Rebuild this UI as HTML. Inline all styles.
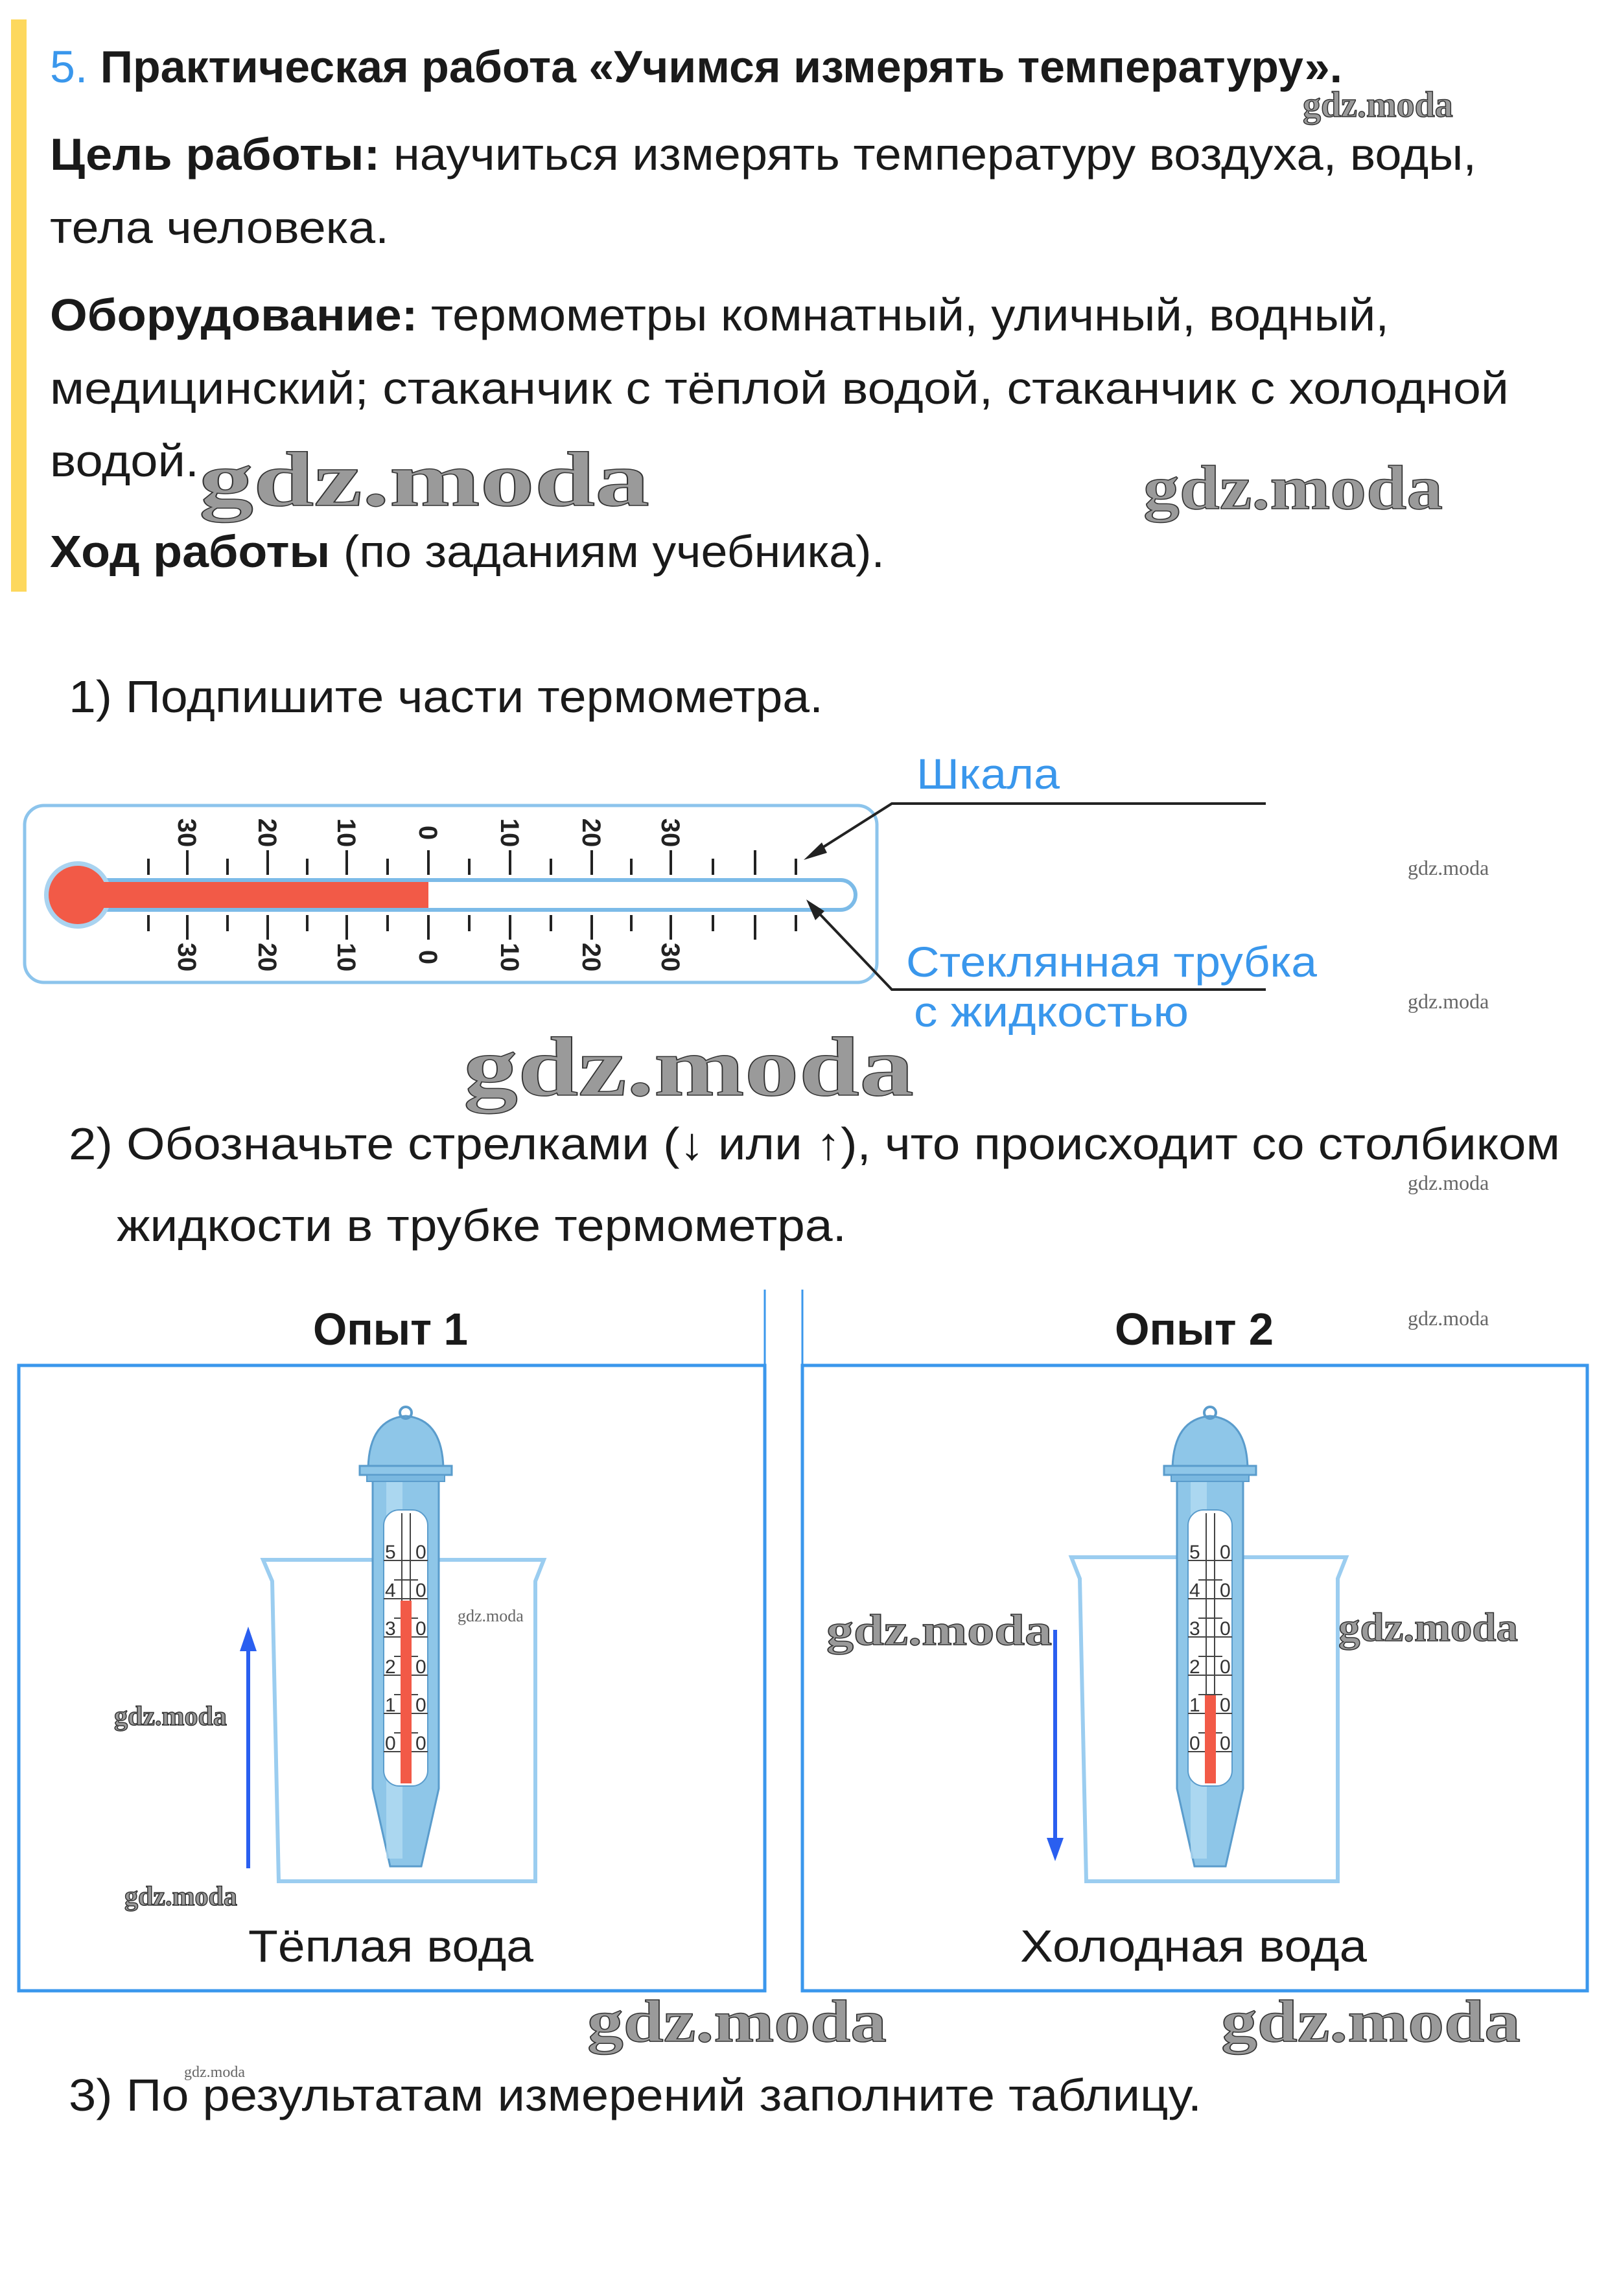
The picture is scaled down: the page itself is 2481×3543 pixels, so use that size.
<!DOCTYPE html>
<html><head><meta charset="utf-8"><style>
html,body{margin:0;padding:0;background:#fff;}
svg{display:block;}
text{font-family:"Liberation Sans",sans-serif;}
.t{font-size:70px;fill:#1a1a1a;}
.b{font-weight:bold;}
.bl{fill:#3a97ec;font-size:66px;}
.wm{font-family:"Liberation Serif",serif;font-weight:bold;fill:#9a9a9a;stroke:#333;stroke-width:1.5px;}
.wms{font-family:"Liberation Serif",serif;fill:#666;}
.sc{font-size:40px;font-weight:bold;fill:#222;}
.dg{font-size:30px;fill:#333;}
</style></head><body>
<svg width="2481" height="3543" viewBox="0 0 2481 3543" xmlns="http://www.w3.org/2000/svg">
<rect x="17" y="30" width="24" height="883" fill="#fdd85d"/>
<text class="t b" x="77" y="127" textLength="1994" lengthAdjust="spacingAndGlyphs"><tspan fill="#3a97ec" font-weight="normal">5.</tspan> Практическая работа «Учимся измерять температуру».</text>
<text class="t" x="77" y="262" textLength="2201" lengthAdjust="spacingAndGlyphs"><tspan class="b">Цель работы:</tspan> научиться измерять температуру воздуха, воды,</text>
<text class="t" x="77" y="375" textLength="523" lengthAdjust="spacingAndGlyphs">тела человека.</text>
<text class="t" x="77" y="510" textLength="2066" lengthAdjust="spacingAndGlyphs"><tspan class="b">Оборудование:</tspan> термометры комнатный, уличный, водный,</text>
<text class="t" x="77" y="623" textLength="2251" lengthAdjust="spacingAndGlyphs">медицинский; стаканчик с тёплой водой, стаканчик с холодной</text>
<text class="t" x="77" y="735" textLength="230" lengthAdjust="spacingAndGlyphs">водой.</text>
<text class="t" x="77" y="875" textLength="1288" lengthAdjust="spacingAndGlyphs"><tspan class="b">Ход работы</tspan> (по заданиям учебника).</text>

<text class="wm" x="2010" y="180" font-size="56">gdz.moda</text>
<text class="wm" x="307" y="780" font-size="120" textLength="695" lengthAdjust="spacingAndGlyphs">gdz.moda</text>
<text class="wm" x="1764" y="785" font-size="96" textLength="462" lengthAdjust="spacingAndGlyphs">gdz.moda</text>

<text class="t" x="106" y="1099" textLength="1164" lengthAdjust="spacingAndGlyphs">1) Подпишите части термометра.</text>

<rect x="38" y="1243" width="1315" height="273" rx="30" fill="none" stroke="#8cc4ec" stroke-width="5"/>
<rect x="120" y="1358" width="1200" height="46" rx="23" fill="#fff" stroke="#7cbbe8" stroke-width="6"/>
<circle cx="120" cy="1381" r="52" fill="#a9d3f0"/>
<circle cx="120" cy="1381" r="45" fill="#f25a47"/>
<rect x="120" y="1361" width="541" height="40" fill="#f25a47"/>
<g stroke="#222" stroke-width="4">
<line x1="229" y1="1325" x2="229" y2="1350"/><line x1="229" y1="1412" x2="229" y2="1437"/>
<line x1="289" y1="1312" x2="289" y2="1350"/><line x1="289" y1="1412" x2="289" y2="1450"/>
<line x1="351" y1="1325" x2="351" y2="1350"/><line x1="351" y1="1412" x2="351" y2="1437"/>
<line x1="413" y1="1312" x2="413" y2="1350"/><line x1="413" y1="1412" x2="413" y2="1450"/>
<line x1="474" y1="1325" x2="474" y2="1350"/><line x1="474" y1="1412" x2="474" y2="1437"/>
<line x1="535" y1="1312" x2="535" y2="1350"/><line x1="535" y1="1412" x2="535" y2="1450"/>
<line x1="598" y1="1325" x2="598" y2="1350"/><line x1="598" y1="1412" x2="598" y2="1437"/>
<line x1="661" y1="1312" x2="661" y2="1350"/><line x1="661" y1="1412" x2="661" y2="1450"/>
<line x1="724" y1="1325" x2="724" y2="1350"/><line x1="724" y1="1412" x2="724" y2="1437"/>
<line x1="787" y1="1312" x2="787" y2="1350"/><line x1="787" y1="1412" x2="787" y2="1450"/>
<line x1="850" y1="1325" x2="850" y2="1350"/><line x1="850" y1="1412" x2="850" y2="1437"/>
<line x1="913" y1="1312" x2="913" y2="1350"/><line x1="913" y1="1412" x2="913" y2="1450"/>
<line x1="974" y1="1325" x2="974" y2="1350"/><line x1="974" y1="1412" x2="974" y2="1437"/>
<line x1="1035" y1="1312" x2="1035" y2="1350"/><line x1="1035" y1="1412" x2="1035" y2="1450"/>
<line x1="1100" y1="1325" x2="1100" y2="1350"/><line x1="1100" y1="1412" x2="1100" y2="1437"/>
<line x1="1165" y1="1312" x2="1165" y2="1350"/><line x1="1165" y1="1412" x2="1165" y2="1450"/>
<line x1="1228" y1="1325" x2="1228" y2="1350"/><line x1="1228" y1="1412" x2="1228" y2="1437"/>
</g>
<g class="sc">
<text transform="translate(275,1285) rotate(90)" text-anchor="middle">30</text>
<text transform="translate(399,1285) rotate(90)" text-anchor="middle">20</text>
<text transform="translate(521,1285) rotate(90)" text-anchor="middle">10</text>
<text transform="translate(647,1285) rotate(90)" text-anchor="middle">0</text>
<text transform="translate(773,1285) rotate(90)" text-anchor="middle">10</text>
<text transform="translate(899,1285) rotate(90)" text-anchor="middle">20</text>
<text transform="translate(1021,1285) rotate(90)" text-anchor="middle">30</text>
<text transform="translate(275,1477) rotate(90)" text-anchor="middle">30</text>
<text transform="translate(399,1477) rotate(90)" text-anchor="middle">20</text>
<text transform="translate(521,1477) rotate(90)" text-anchor="middle">10</text>
<text transform="translate(647,1477) rotate(90)" text-anchor="middle">0</text>
<text transform="translate(773,1477) rotate(90)" text-anchor="middle">10</text>
<text transform="translate(899,1477) rotate(90)" text-anchor="middle">20</text>
<text transform="translate(1021,1477) rotate(90)" text-anchor="middle">30</text>
</g>
<g stroke="#222" stroke-width="4" fill="none">
<polyline points="1953,1240 1376,1240 1250,1320"/>
<polyline points="1953,1527 1376,1527 1250,1395"/>
</g>
<polygon points="1240,1327 1268,1300 1276,1316" fill="#222"/>
<polygon points="1244,1388 1258,1420 1272,1406" fill="#222"/>
<text class="bl" x="1414" y="1217" textLength="221" lengthAdjust="spacingAndGlyphs">Шкала</text>
<text class="bl" x="1398" y="1507" textLength="634" lengthAdjust="spacingAndGlyphs">Стеклянная трубка</text>
<text class="bl" x="1410" y="1584" textLength="424" lengthAdjust="spacingAndGlyphs">с жидкостью</text>
<text class="wms" x="2172" y="1350" font-size="32">gdz.moda</text>
<text class="wms" x="2172" y="1556" font-size="32">gdz.moda</text>
<text class="wm" x="715" y="1690" font-size="130" textLength="695" lengthAdjust="spacingAndGlyphs">gdz.moda</text>

<text class="t" x="106" y="1789" textLength="2301" lengthAdjust="spacingAndGlyphs">2) Обозначьте стрелками (↓ или ↑), что происходит со столбиком</text>
<text class="t" x="180" y="1915" textLength="1126" lengthAdjust="spacingAndGlyphs">жидкости в трубке термометра.</text>
<text class="wms" x="2172" y="1836" font-size="32">gdz.moda</text>
<text class="wms" x="2172" y="2045" font-size="32">gdz.moda</text>

<text class="t b" x="483" y="2075" textLength="239" lengthAdjust="spacingAndGlyphs">Опыт 1</text>
<text class="t b" x="1720" y="2075" textLength="245" lengthAdjust="spacingAndGlyphs">Опыт 2</text>
<line x1="1180" y1="1990" x2="1180" y2="2107" stroke="#3a97ec" stroke-width="3"/>
<line x1="1238" y1="1990" x2="1238" y2="2107" stroke="#3a97ec" stroke-width="3"/>
<rect x="29" y="2107" width="1151" height="965" fill="none" stroke="#3a97ec" stroke-width="5"/>
<rect x="1238" y="2107" width="1211" height="965" fill="none" stroke="#3a97ec" stroke-width="5"/>

<defs>
<g id="therm">
<path d="M575,2278 L677,2278 L677,2760 L650,2880 L602,2880 L575,2760 Z" fill="#8ec6e8" stroke="#5a9ccc" stroke-width="3"/>
<rect x="596" y="2278" width="25" height="590" fill="#b8def4" opacity="0.7"/>
<path d="M568,2265 Q570,2190 626,2185 Q682,2190 684,2265 Z" fill="#8ec6e8" stroke="#5a9ccc" stroke-width="3"/>
<circle cx="626" cy="2180" r="9" fill="none" stroke="#5a9ccc" stroke-width="4"/>
<rect x="555" y="2262" width="142" height="14" fill="#8ec6e8" stroke="#5a9ccc" stroke-width="3"/>
<rect x="566" y="2276" width="120" height="10" fill="#7ab8e0" stroke="#5a9ccc" stroke-width="2"/>
<rect x="592" y="2330" width="68" height="426" rx="24" fill="#fff" stroke="#5a9ccc" stroke-width="2"/>
<line x1="620" y1="2335" x2="620" y2="2752" stroke="#444" stroke-width="2"/>
<line x1="633" y1="2335" x2="633" y2="2752" stroke="#444" stroke-width="2"/>
<g stroke="#444" stroke-width="2">
<line x1="592" y1="2408" x2="660" y2="2408"/><line x1="592" y1="2467" x2="660" y2="2467"/>
<line x1="592" y1="2526" x2="660" y2="2526"/><line x1="592" y1="2585" x2="660" y2="2585"/>
<line x1="592" y1="2644" x2="660" y2="2644"/><line x1="592" y1="2703" x2="660" y2="2703"/>
<line x1="608" y1="2438" x2="645" y2="2438"/><line x1="608" y1="2497" x2="645" y2="2497"/>
<line x1="608" y1="2556" x2="645" y2="2556"/><line x1="608" y1="2615" x2="645" y2="2615"/>
<line x1="608" y1="2674" x2="645" y2="2674"/>
</g>
<g class="dg">
<text x="594" y="2405">5</text><text x="641" y="2405">0</text>
<text x="594" y="2464">4</text><text x="641" y="2464">0</text>
<text x="594" y="2523">3</text><text x="641" y="2523">0</text>
<text x="594" y="2582">2</text><text x="641" y="2582">0</text>
<text x="594" y="2641">1</text><text x="641" y="2641">0</text>
<text x="594" y="2700">0</text><text x="641" y="2700">0</text>
</g>
</g>
</defs>

<path d="M406,2407 L839,2407 L826,2440 L826,2903 L430,2903 L420,2440 Z" fill="none" stroke="#9bcdf0" stroke-width="6"/>
<use href="#therm"/>
<rect x="618" y="2470" width="17" height="282" fill="#f25a47"/>
<line x1="383" y1="2883" x2="383" y2="2545" stroke="#2a5ff0" stroke-width="6"/>
<polygon points="383,2510 370,2548 396,2548" fill="#2a5ff0"/>

<path d="M1653,2403 L2077,2403 L2064,2436 L2064,2903 L1676,2903 L1666,2436 Z" fill="none" stroke="#9bcdf0" stroke-width="6"/>
<use href="#therm" transform="translate(1241,0)"/>
<rect x="1859" y="2616" width="17" height="136" fill="#f25a47"/>
<line x1="1628" y1="2515" x2="1628" y2="2840" stroke="#2a5ff0" stroke-width="6"/>
<polygon points="1628,2872 1615,2836 1641,2836" fill="#2a5ff0"/>

<text class="wms" x="706" y="2502" font-size="26">gdz.moda</text>
<text class="wm" x="176" y="2662" font-size="42">gdz.moda</text>
<text class="wm" x="192" y="2940" font-size="42">gdz.moda</text>
<text class="wm" x="1275" y="2538" font-size="68" textLength="348" lengthAdjust="spacingAndGlyphs">gdz.moda</text>
<text class="wm" x="2065" y="2532" font-size="62" textLength="277" lengthAdjust="spacingAndGlyphs">gdz.moda</text>

<text class="t" x="383" y="3027" textLength="440" lengthAdjust="spacingAndGlyphs">Тёплая вода</text>
<text class="t" x="1574" y="3027" textLength="535" lengthAdjust="spacingAndGlyphs">Холодная вода</text>

<text class="wm" x="906" y="3150" font-size="92" textLength="462" lengthAdjust="spacingAndGlyphs">gdz.moda</text>
<text class="wm" x="1884" y="3150" font-size="92" textLength="462" lengthAdjust="spacingAndGlyphs">gdz.moda</text>
<text class="wms" x="284" y="3205" font-size="24">gdz.moda</text>
<text class="t" x="106" y="3257" textLength="1748" lengthAdjust="spacingAndGlyphs">3) По результатам измерений заполните таблицу.</text>
</svg>
</body></html>
